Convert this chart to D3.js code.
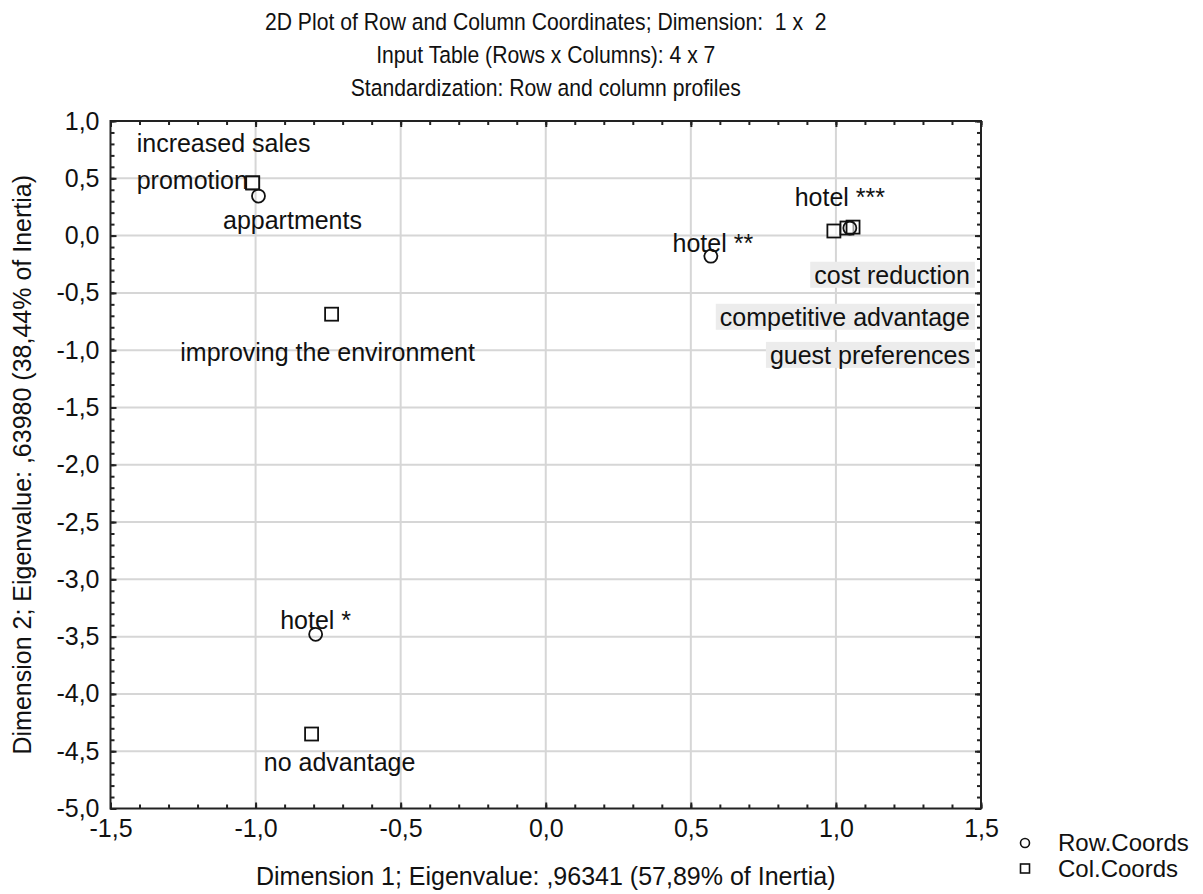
<!DOCTYPE html>
<html>
<head>
<meta charset="utf-8">
<script src="https://cdn.jsdelivr.net/npm/d3@7"></script>
<style>
  html, body { margin: 0; padding: 0; background: #fff; }
  svg { display: block; font-family: "Liberation Sans", Arial, sans-serif; }
  text { white-space: pre; }
</style>
</head>
<body>
<svg id="chart" width="1203" height="894"></svg>
<script>
// ---- data ----
const titleLines = [
  "2D Plot of Row and Column Coordinates; Dimension:  1 x  2",
  "Input Table (Rows x Columns): 4 x 7",
  "Standardization: Row and column profiles"
];
const xAxisTitle = "Dimension 1; Eigenvalue: ,96341 (57,89% of Inertia)";
const yAxisTitle = "Dimension 2; Eigenvalue: ,63980 (38,44% of Inertia)";

const rowLabels = ["appartments", "hotel *", "hotel **", "hotel ***"];
const rowDim1   = [-0.99, -0.793, 0.569, 1.048];
const rowDim2   = [0.345, -3.48, -0.18, 0.066];

const colLabels = ["increased sales", "promotion", "improving the environment", "no advantage",
                   "cost reduction", "competitive advantage", "guest preferences"];
const colDim1   = [-1.01, -1.01, -0.738, -0.807, 0.993, 1.038, 1.059];
const colDim2   = [0.46, 0.46, -0.686, -4.35, 0.04, 0.066, 0.074];

const xTicks = [-1.5, -1.0, -0.5, 0.0, 0.5, 1.0, 1.5];
const yTicks = [1.0, 0.5, 0.0, -0.5, -1.0, -1.5, -2.0, -2.5, -3.0, -3.5, -4.0, -4.5, -5.0];
const legendLabels = ["Row.Coords", "Col.Coords"];

// ---- label layout (pixel offsets from the marker) ----
const labelLayout = {
  "appartments":               { anchor: "middle", dx: 34,  dy: 24,  box: false },
  "hotel *":                   { anchor: "middle", dx: 0,   dy: -14, box: false },
  "hotel **":                  { anchor: "middle", dx: 2,   dy: -13, box: false },
  "hotel ***":                 { anchor: "middle", dx: -10, dy: -31, box: false },
  "increased sales":           { anchor: "start",  dx: -116, dy: -40, box: false },
  "promotion":                 { anchor: "start",  dx: -116, dy: -3,  box: false },
  "improving the environment": { anchor: "middle", dx: -4,  dy: 38,  box: false },
  "no advantage":              { anchor: "middle", dx: 28,  dy: 28,  box: false },
  "cost reduction":            { anchor: "end",    dx: 136, dy: 44,  box: true },
  "competitive advantage":     { anchor: "end",    dx: 123, dy: 89,  box: true },
  "guest preferences":         { anchor: "end",    dx: 117, dy: 128, box: true }
};

// ---- chart ----
const svg = d3.select("#chart");
const pLeft = 110.5, pRight = 981, pTop = 121, pBottom = 808.5;
const FS = 25;
const x = d3.scaleLinear().domain([-1.5, 1.5]).range([pLeft, pRight]);
const y = d3.scaleLinear().domain([-5.0, 1.0]).range([pBottom, pTop]);
const fmt = v => d3.format(".1f")(v).replace(".", ",").replace("\u2212", "-");

// titles (slightly condensed look)
svg.append("g")
  .attr("transform", `translate(${(pLeft + pRight) / 2},0) scale(0.9,1)`)
  .selectAll("text").data(titleLines).join("text")
  .attr("x", 0)
  .attr("y", (d, i) => 30 + i * 33)
  .attr("text-anchor", "middle")
  .attr("font-size", 23.5)
  .attr("fill", "#111")
  .text(d => d);

// grid
const grid = svg.append("g");
grid.selectAll("line.gx").data(xTicks.slice(1, -1)).join("line")
  .attr("x1", d => x(d)).attr("x2", d => x(d))
  .attr("y1", pTop).attr("y2", pBottom)
  .attr("stroke", "#d6d6d6").attr("stroke-width", 2);
grid.selectAll("line.gy").data(yTicks.slice(1, -1)).join("line")
  .attr("y1", d => y(d)).attr("y2", d => y(d))
  .attr("x1", pLeft).attr("x2", pRight)
  .attr("stroke", "#d6d6d6").attr("stroke-width", 2);

// axes (ticks inward on all four sides)
const xMinor = d3.range(-15, 16).map(v => v / 10);
const yMinor = d3.range(-50, 11).map(v => v / 10);
function axisGroup(axis, tx, ty) {
  const g = svg.append("g").attr("transform", `translate(${tx},${ty})`).call(axis);
  g.select(".domain").remove();
  g.selectAll("line").attr("stroke", "#222").attr("stroke-width", 2);
  return g;
}
// minor ticks
axisGroup(d3.axisBottom(x).tickValues(xMinor).tickSize(-4).tickFormat(""), 0, pBottom);
axisGroup(d3.axisTop(x).tickValues(xMinor).tickSize(-4).tickFormat(""), 0, pTop);
axisGroup(d3.axisLeft(y).tickValues(yMinor).tickSize(-4).tickFormat(""), pLeft, 0);
axisGroup(d3.axisRight(y).tickValues(yMinor).tickSize(-4).tickFormat(""), pRight, 0);
// major ticks with labels
const gx = axisGroup(d3.axisBottom(x).tickValues(xTicks).tickSize(-6).tickPadding(11).tickFormat(fmt), 0, pBottom);
gx.selectAll("text").attr("font-size", FS).attr("fill", "#111").attr("font-family", "Liberation Sans, Arial, sans-serif");
const gy = axisGroup(d3.axisLeft(y).tickValues(yTicks).tickSize(-6).tickPadding(11).tickFormat(fmt), pLeft, 0);
gy.selectAll("text").attr("font-size", FS).attr("fill", "#111").attr("font-family", "Liberation Sans, Arial, sans-serif");
axisGroup(d3.axisTop(x).tickValues(xTicks).tickSize(-6).tickFormat(""), 0, pTop);
axisGroup(d3.axisRight(y).tickValues(yTicks).tickSize(-6).tickFormat(""), pRight, 0);

// frame
svg.append("rect")
  .attr("x", pLeft).attr("y", pTop)
  .attr("width", pRight - pLeft).attr("height", pBottom - pTop)
  .attr("fill", "none").attr("stroke", "#222").attr("stroke-width", 2);

// axis titles
svg.append("text")
  .attr("x", (pLeft + pRight) / 2).attr("y", 885)
  .attr("text-anchor", "middle").attr("font-size", FS).attr("fill", "#111")
  .text(xAxisTitle);
svg.append("text")
  .attr("transform", `translate(31,${(pTop + pBottom) / 2}) rotate(-90)`)
  .attr("text-anchor", "middle").attr("font-size", FS).attr("fill", "#111")
  .text(yAxisTitle);

// points
const rows = rowLabels.map((l, i) => ({ label: l, x: rowDim1[i], y: rowDim2[i], type: "row" }));
const cols = colLabels.map((l, i) => ({ label: l, x: colDim1[i], y: colDim2[i], type: "col" }));
const all = cols.concat(rows);

// labels
const labG = svg.append("g");
all.forEach(d => {
  const L = labelLayout[d.label];
  const tx = x(d.x) + L.dx, ty = y(d.y) + L.dy;
  const g = labG.append("g");
  const t = g.append("text")
    .attr("x", tx).attr("y", ty)
    .attr("dy", "0.35em")
    .attr("text-anchor", L.anchor)
    .attr("font-size", FS).attr("fill", "#111")
    .text(d.label);
  if (L.box) {
    const bb = t.node().getBBox();
    g.insert("rect", "text")
      .attr("x", bb.x - 4).attr("y", bb.y + 1)
      .attr("width", bb.width + 9).attr("height", bb.height - 2)
      .attr("fill", "#ececec");
  }
});

const markG = svg.append("g");
markG.selectAll("rect.col").data(cols).join("rect")
  .attr("class", "col")
  .attr("x", d => x(d.x) - 6.5).attr("y", d => y(d.y) - 6.5)
  .attr("width", 13).attr("height", 13)
  .attr("fill", "#fff").attr("fill-opacity", 0.6)
  .attr("stroke", "#111").attr("stroke-width", 1.8);
markG.selectAll("circle.row").data(rows).join("circle")
  .attr("class", "row")
  .attr("cx", d => x(d.x)).attr("cy", d => y(d.y))
  .attr("r", 6.5)
  .attr("fill", "none")
  .attr("stroke", "#111").attr("stroke-width", 1.8);

// legend
const leg = svg.append("g");
leg.append("circle").attr("cx", 1025).attr("cy", 843).attr("r", 4.5)
  .attr("fill", "none").attr("stroke", "#111").attr("stroke-width", 1.6);
leg.append("rect").attr("x", 1020.5).attr("y", 864).attr("width", 9).attr("height", 9)
  .attr("fill", "none").attr("stroke", "#111").attr("stroke-width", 1.6);
leg.selectAll("text").data(legendLabels).join("text")
  .attr("x", 1058).attr("y", (d, i) => 843 + i * 26)
  .attr("dy", "0.35em").attr("font-size", 24).attr("fill", "#111")
  .text(d => d);
</script>
</body>
</html>
